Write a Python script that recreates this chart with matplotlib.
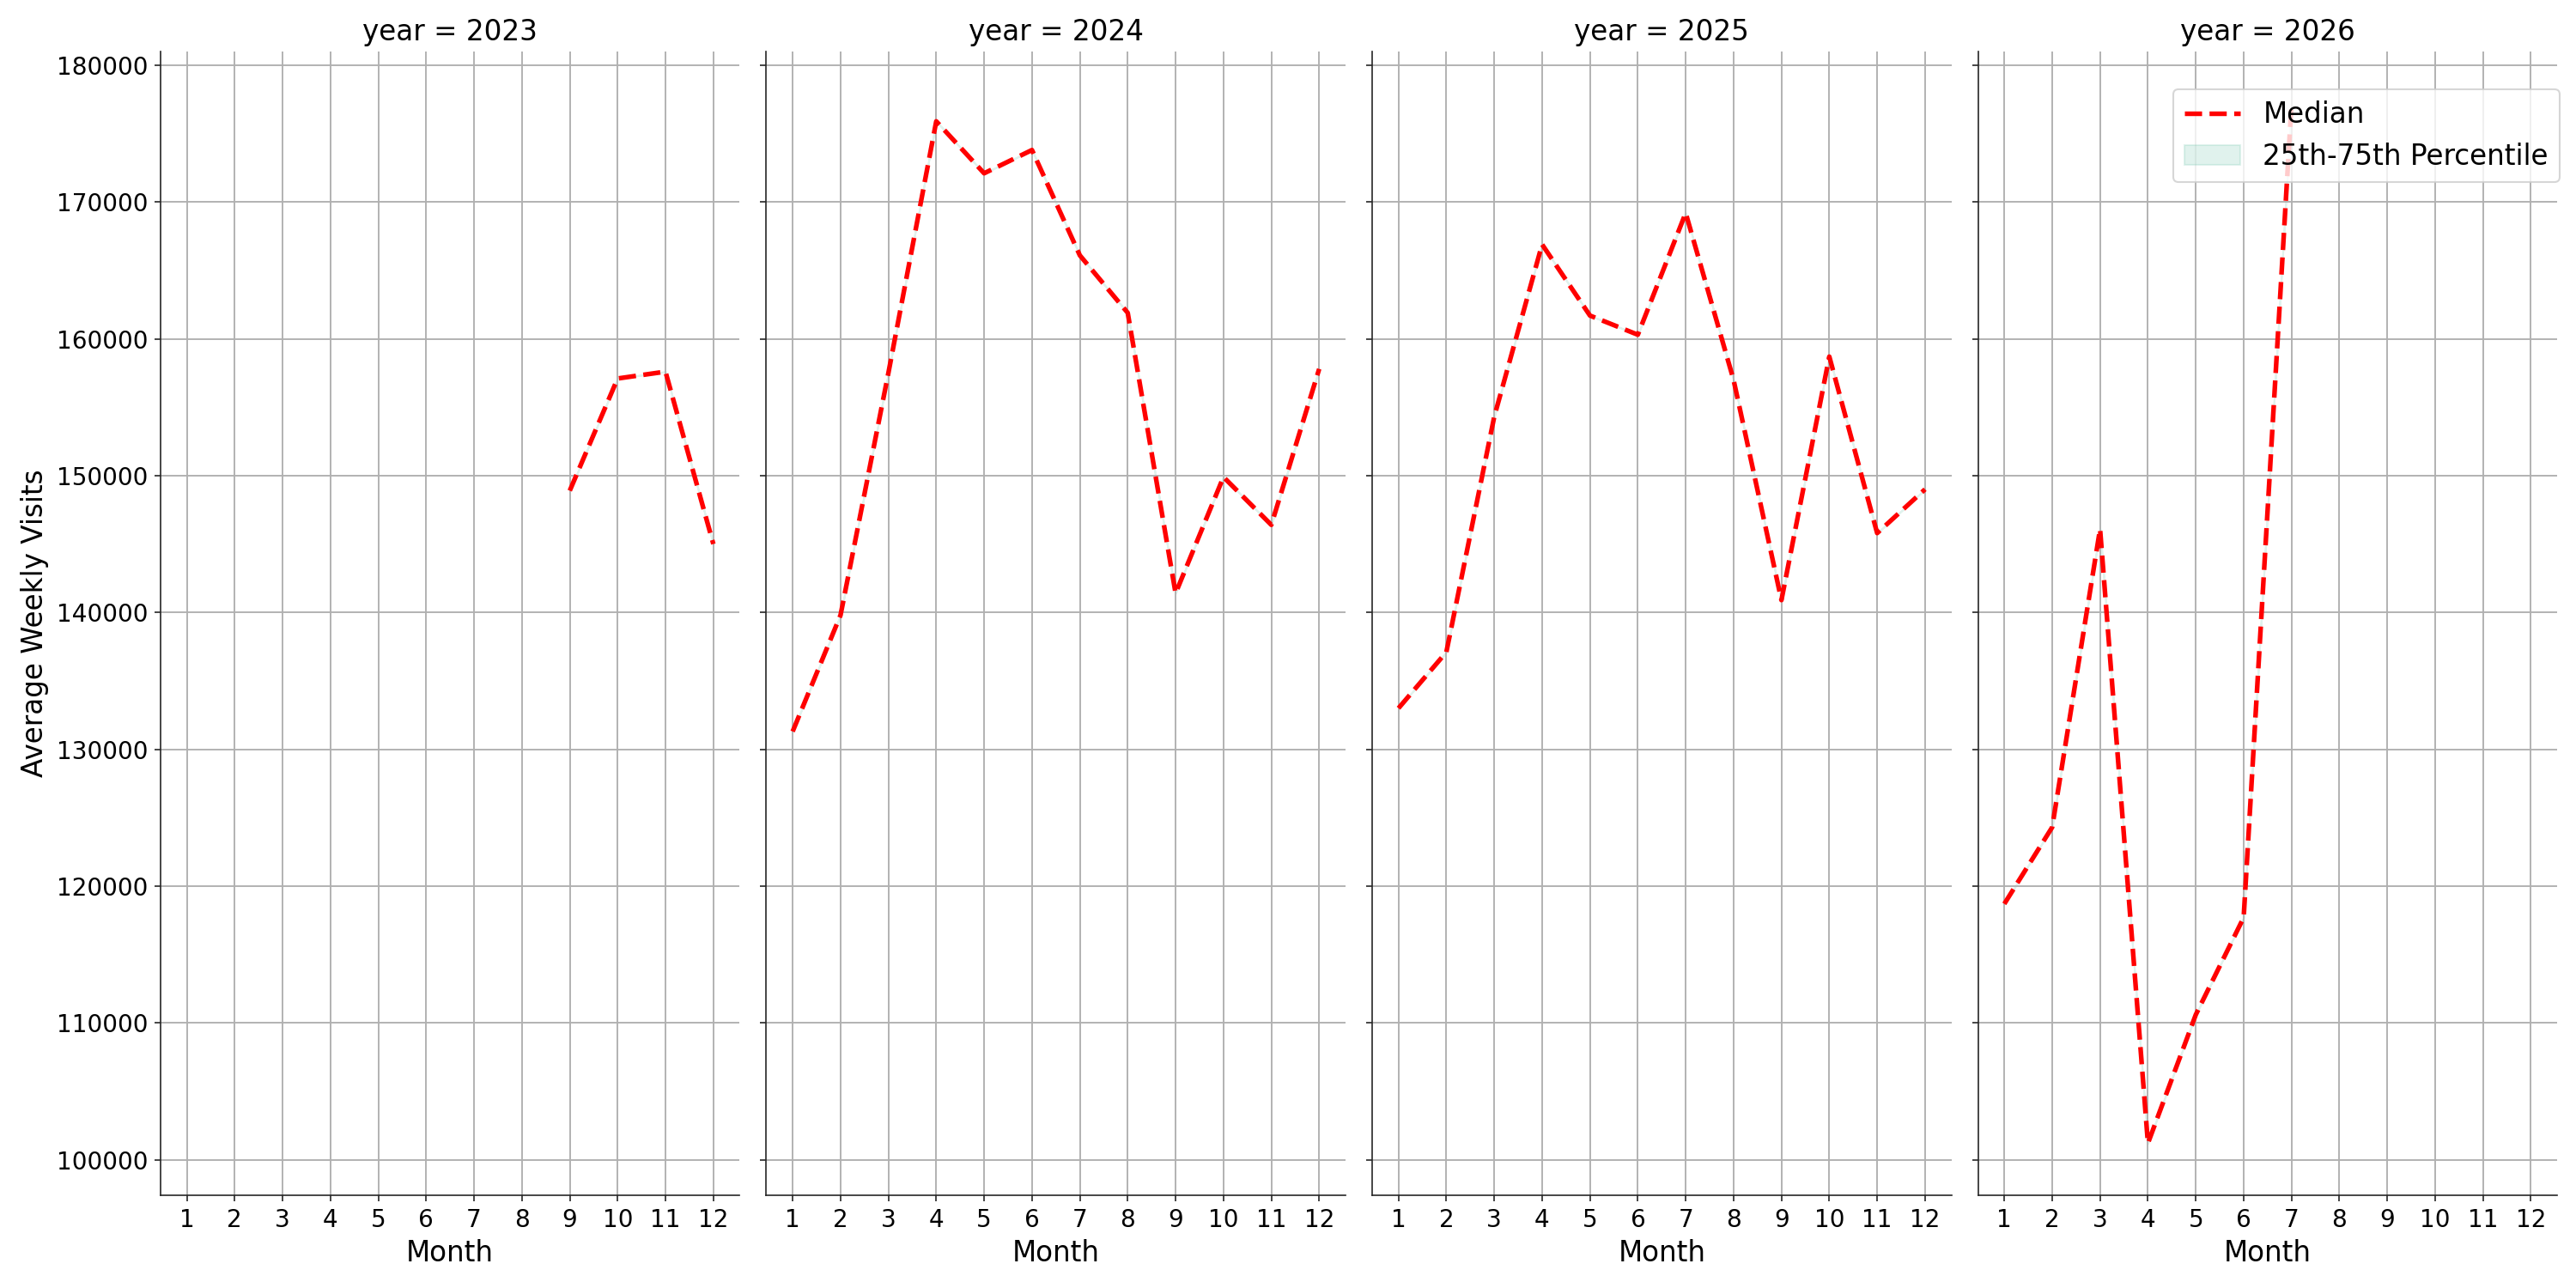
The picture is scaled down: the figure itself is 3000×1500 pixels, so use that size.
import numpy as np
import matplotlib
matplotlib.use('Agg')
import matplotlib.pyplot as plt

# Median weekly visits per month, per year
years = [2023, 2024, 2025, 2026]
months_2023 = [9, 10, 11, 12]
median_2023 = [148900, 157100, 157600, 145000]
months_2024 = [1, 2, 3, 4, 5, 6, 7, 8, 9, 10, 11, 12]
median_2024 = [131300, 139800, 157500, 175900, 172100, 173800, 166100, 161900, 141400, 149900, 146400, 157800]
months_2025 = [1, 2, 3, 4, 5, 6, 7, 8, 9, 10, 11, 12]
median_2025 = [133000, 137100, 154300, 166900, 161700, 160300, 169200, 157000, 140900, 158700, 145800, 149000]
months_2026 = [1, 2, 3, 4, 5, 6, 7]
median_2026 = [118700, 124300, 146100, 101200, 110600, 117700, 177200]

month_ticks = list(range(1, 13))

data = {
    2023: (months_2023, median_2023),
    2024: (months_2024, median_2024),
    2025: (months_2025, median_2025),
    2026: (months_2026, median_2026),
}

fig, axes = plt.subplots(1, 4, sharey=True, figsize=(20, 10), dpi=150)
fig.subplots_adjust(left=0.0623, right=0.9927, top=0.96, bottom=0.072, wspace=0.046)

for ax, yr in zip(axes, years):
    m, med = data[yr]
    ax.plot(m, med, color='red', linestyle='--', linewidth=2.6, label='Median')
    # percentile band (collapsed onto the median here)
    ax.fill_between(m, med, med, color='#66c2a5', alpha=0.2, label='25th-75th Percentile')
    ax.set_title(f'year = {yr}', fontsize=15.7)
    ax.set_xlabel('Month', fontsize=15.7)
    ax.set_xticks(month_ticks)
    ax.set_xlim(0.45, 12.55)
    ax.tick_params(labelsize=13.4, color='#262626')
    ax.grid(True, color='#b0b0b0', linewidth=0.9)
    ax.spines['top'].set_visible(False)
    ax.spines['right'].set_visible(False)
    ax.spines['left'].set_color('#262626')
    ax.spines['bottom'].set_color('#262626')

axes[0].set_ylabel('Average Weekly Visits', fontsize=15.7)
axes[-1].legend(loc='upper right', bbox_to_anchor=(1.0044, 0.967), borderaxespad=0,
                fontsize=15.7)

plt.savefig('out.png')
